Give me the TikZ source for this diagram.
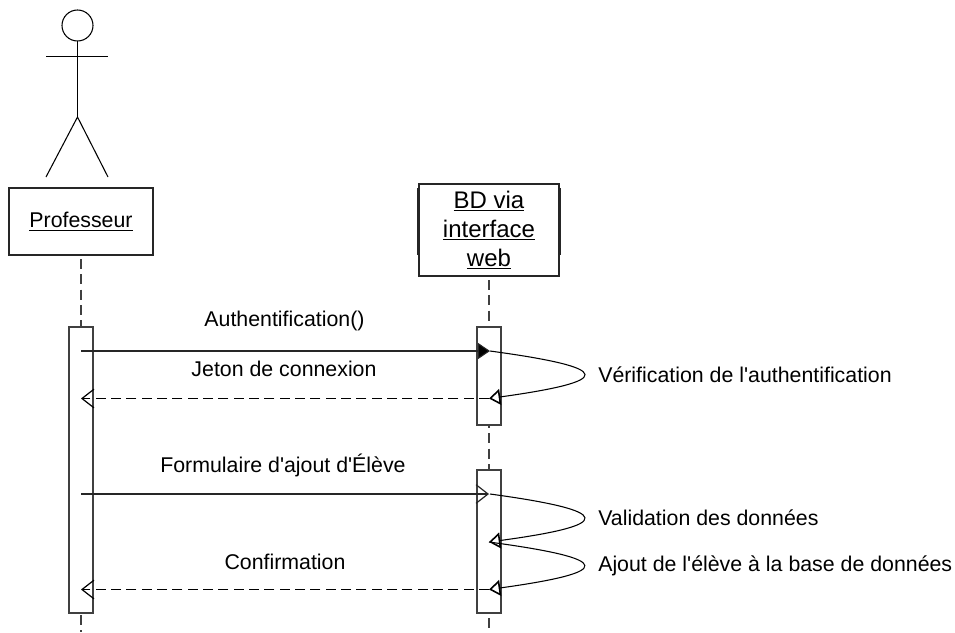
\documentclass[tikz,border=0pt]{standalone}
\usepackage{fontspec}
\setmainfont{Liberation Sans}
\usetikzlibrary{arrows.meta}
\tikzset{
  px/.style={x=0.75pt,y=-0.75pt},
  obj/.style={draw=black!85,line width=0.8pt,fill=white,inner sep=0pt,outer sep=0pt,align=center},
  bar/.style={draw=black!75,line width=0.8pt,fill=white,inner sep=0pt,outer sep=0pt,minimum width=18pt},
  life/.style={draw=black!75,line width=0.8pt,dash pattern=on 7.5pt off 4pt},
  msg/.style={draw=black!85,line width=0.8pt},
  ret/.style={draw=black,line width=0.85pt,dash pattern=on 7.5pt off 4pt},
  self/.style={draw=black,line width=0.8pt},
  txt/.style={font=\fontsize{16pt}{21.75pt}\selectfont,inner sep=0pt,text=black},
  bigtxt/.style={font=\fontsize{18pt}{21.75pt}\selectfont,inner sep=0pt,text=black},
  tipfill/.style={-{Triangle[length=9pt,width=12pt,fill=black]}},
  tipopen/.style={-{Straight Barb[length=9pt,width=14pt,line width=0.9pt]}},
  tipwhite/.style={-{Triangle[length=8.5pt,width=12pt,open,fill=white,line width=1.2pt]}},
}
\begin{document}
\begin{tikzpicture}[px]
\useasboundingbox (0,0) rectangle (955,632);
\fill[white] (0,0) rectangle (955,632);
% actor
\node[circle,draw=black,line width=0.8pt,minimum size=23.25pt,inner sep=0pt,outer sep=0pt] (head) at (77.5,25.5) {};
\coordinate (hip) at (77.5,117);
\coordinate (armL) at (46,56.5);
\coordinate (armR) at (108,56.5);
\coordinate (legL) at (46,177);
\coordinate (legR) at (108,177);
\draw[self] (head.south) -- (hip);
\draw[self] (armL) -- (armR);
\draw[self] (legL) -- (hip) -- (legR);
% objects
\node[obj,minimum width=108pt,minimum height=50.25pt,txt] (prof) at (81,221.5) {\raisebox{-0.7pt}{\underline{Professeur}}};
\coordinate (sLa) at (417.5,188); \coordinate (sLb) at (417.5,255);
\coordinate (sRa) at (560.5,188); \coordinate (sRb) at (560.5,255);
\draw[draw=black!85,line width=1.2pt] (sLa) -- (sLb);
\draw[draw=black!85,line width=1.2pt] (sRa) -- (sRb);
\node[obj,minimum width=105pt,minimum height=69pt,bigtxt] (bd) at (489,230) {\underline{BD via}\\\underline{interface}\\\underline{web}};
% activation bars
\node[bar,minimum height=214.5pt] (barP) at (81,470) {};
\node[bar,minimum height=73.5pt] (barA) at (489,376) {};
\node[bar,minimum height=107.25pt] (barB) at (489,541.5) {};
\coordinate (endP) at (81,632);
\coordinate (endB) at (489,632);
% lifelines
\draw[life,dash phase=8.5pt] (prof.south) -- (barP.north);
\draw[life,dash phase=8.5pt] (bd.south) -- (barA.north);
\draw[life,dash phase=5.25pt] (barA.south) -- (barB.north);
\draw[life,dash phase=10pt] (barP.south) -- (endP);
\draw[life,dash phase=7.5pt] (barB.south) -- (endB);
% message anchors
\coordinate (p1) at (81,351);
\coordinate (b1) at (490,351);
\coordinate (b2) at (489,398.5);
\coordinate (p2) at (81,398.5);
\coordinate (p3) at (81,494);
\coordinate (b3) at (489,494);
\coordinate (b3s) at (490,494);
\coordinate (b4) at (489,542);
\coordinate (b5) at (489,589.5);
\coordinate (p5) at (81,589.5);
% messages
\draw[msg,tipfill] (p1) -- (b1);
\draw[ret,tipopen] (b2) -- (p2);
\draw[msg,tipopen] (p3) -- (b3);
\draw[ret,tipopen] (b5) -- (p5);
% self calls
\draw[self,tipwhite] (b1) .. controls (615,368) and (615,381) .. (b2);
\draw[self,tipwhite] (b3s) .. controls (615,511) and (615,525) .. (b4);
\draw[self,tipwhite] (b4) .. controls (615,559) and (615,572) .. (b5);
% labels
\node[txt] (l1) at (284.5,320.5) {Authentification()};
\node[txt] (l2) at (284,369) {Jeton de connexion};
\node[txt] (l3) at (283,465.5) {Formulaire d\textquotesingle ajout d\textquotesingle Élève};
\node[txt] (l4) at (285,561.5) {Confirmation};
\node[txt,anchor=west] (l5) at (598,374.5) {Vérification de l\textquotesingle authentification};
\node[txt,anchor=west] (l6) at (598,517.5) {Validation des données};
\node[txt,anchor=west] (l7) at (598,566) {Ajout de l\textquotesingle élève à la base de données};
\end{tikzpicture}
\end{document}
